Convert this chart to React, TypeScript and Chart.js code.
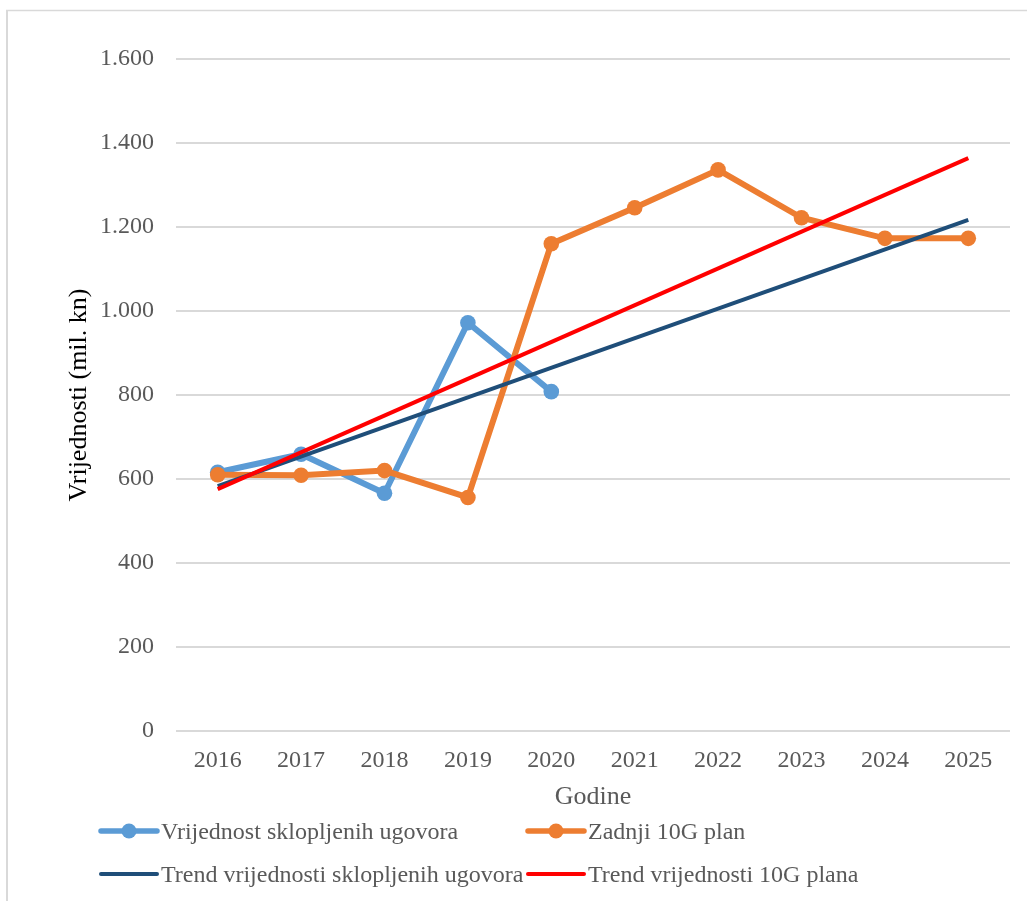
import { useEffect, useRef } from 'react';
import { Chart, registerables } from 'chart.js';

Chart.register(...registerables);

// Godine (x-os)
const years = ['2016', '2017', '2018', '2019', '2020', '2021', '2022', '2023', '2024', '2025'];

// Vrijednost sklopljenih ugovora (mil. kn), 2016–2020
const contractValues = [616, 659, 566, 972, 808];

// Zadnji 10G plan (mil. kn), 2016–2025
const planValues = [610, 609, 620, 556, 1160, 1246, 1336, 1222, 1173, 1173];

// Linearni trendovi: početna (2016) i završna (2025) vrijednost
const contractTrend = [583, null, null, null, null, null, null, null, null, 1217];
const planTrend = [576, null, null, null, null, null, null, null, null, 1364];

// Oznake osi y
const yTickStep = 200;
const yMax = 1600;

const SERIF = '"Liberation Serif", "Times New Roman", Times, serif';
const GRID = '#D9D9D9';
const GRAY_TEXT = '#595959';

const BLUE = '#5B9BD5';
const ORANGE = '#ED7D31';
const NAVY = '#1F4E79';
const RED = '#FF0000';

const formatThousands = (v: number) =>
  String(Math.round(v)).replace(/\B(?=(\d{3})+(?!\d))/g, '.');

// Okvir grafikona (gornji i lijevi rub)
const framePlugin = {
  id: 'frame',
  beforeDraw(chart: Chart) {
    const { ctx, width, height } = chart;
    ctx.save();
    ctx.strokeStyle = GRID;
    ctx.lineWidth = 1.5;
    ctx.beginPath();
    ctx.moveTo(6, 10.5);
    ctx.lineTo(width, 10.5);
    ctx.stroke();
    ctx.lineWidth = 2;
    ctx.beginPath();
    ctx.moveTo(7, 10);
    ctx.lineTo(7, height);
    ctx.stroke();
    ctx.restore();
  },
};

// Legenda u dva stupca ispod grafikona
const legendPlugin = {
  id: 'twoColumnLegend',
  afterDraw(chart: Chart) {
    const { ctx } = chart;
    const slots = [
      { ds: 0, x: 101, y: 831 },
      { ds: 1, x: 528, y: 831 },
      { ds: 2, x: 101, y: 874 },
      { ds: 3, x: 528, y: 874 },
    ];
    const lineLen = 56;
    ctx.save();
    for (const s of slots) {
      const ds: any = chart.data.datasets[s.ds];
      const hasMarker = (ds.pointRadius ?? 0) > 0;
      ctx.strokeStyle = ds.borderColor;
      ctx.lineWidth = hasMarker ? 5.5 : 4;
      ctx.lineCap = 'round';
      ctx.beginPath();
      ctx.moveTo(s.x, s.y);
      ctx.lineTo(s.x + lineLen, s.y);
      ctx.stroke();
      if (hasMarker) {
        ctx.fillStyle = ds.borderColor;
        ctx.beginPath();
        ctx.arc(s.x + lineLen / 2, s.y, 7.5, 0, Math.PI * 2);
        ctx.fill();
      }
      ctx.fillStyle = GRAY_TEXT;
      ctx.font = `24px ${SERIF}`;
      ctx.textAlign = 'left';
      ctx.textBaseline = 'alphabetic';
      ctx.fillText(ds.label, s.x + lineLen + 4, s.y + 7.5);
    }
    ctx.restore();
  },
};

export default function App() {
  const canvasRef = useRef<HTMLCanvasElement | null>(null);

  useEffect(() => {
    const canvas = canvasRef.current;
    if (!canvas) return;

    const chart = new Chart(canvas, {
      type: 'line',
      data: {
        labels: years,
        datasets: [
          {
            label: 'Vrijednost sklopljenih ugovora',
            data: contractValues,
            borderColor: BLUE,
            backgroundColor: BLUE,
            borderWidth: 6,
            pointRadius: 7.8,
            pointBorderWidth: 0,
            pointBackgroundColor: BLUE,
            tension: 0,
            order: 3,
          },
          {
            label: 'Zadnji 10G plan',
            data: planValues,
            borderColor: ORANGE,
            backgroundColor: ORANGE,
            borderWidth: 6,
            pointRadius: 7.8,
            pointBorderWidth: 0,
            pointBackgroundColor: ORANGE,
            tension: 0,
            order: 2,
          },
          {
            label: 'Trend vrijednosti sklopljenih ugovora',
            data: contractTrend,
            borderColor: NAVY,
            backgroundColor: NAVY,
            borderWidth: 4,
            pointRadius: 0,
            spanGaps: true,
            tension: 0,
            order: 1,
          },
          {
            label: 'Trend vrijednosti 10G plana',
            data: planTrend,
            borderColor: RED,
            backgroundColor: RED,
            borderWidth: 4,
            pointRadius: 0,
            spanGaps: true,
            tension: 0,
            order: 0,
          },
        ],
      },
      options: {
        responsive: false,
        animation: false,
        events: [],
        layout: { padding: { left: 64, right: 17, top: 59, bottom: 88 } },
        plugins: {
          legend: { display: false },
          tooltip: { enabled: false },
          title: { display: false },
        },
        scales: {
          x: {
            offset: true,
            grid: { display: false, offset: true },
            border: { display: false },
            ticks: {
              color: GRAY_TEXT,
              font: { family: SERIF, size: 24 },
              padding: 7,
              maxRotation: 0,
              autoSkip: false,
            },
            title: {
              display: true,
              text: 'Godine',
              color: GRAY_TEXT,
              font: { family: SERIF, size: 26 },
              padding: 0,
            },
            afterFit(scale: any) {
              scale.height = 82;
            },
          },
          y: {
            min: 0,
            max: yMax,
            grid: { color: GRID, lineWidth: 2, drawTicks: false },
            border: { display: false },
            ticks: {
              stepSize: yTickStep,
              color: GRAY_TEXT,
              font: { family: SERIF, size: 24 },
              padding: 22,
              callback: (v: any) => formatThousands(Number(v)),
            },
            title: {
              display: true,
              text: 'Vrijednosti (mil. kn)',
              color: '#000000',
              font: { family: SERIF, size: 26 },
              padding: 0,
            },
            afterFit(scale: any) {
              scale.width = 112;
            },
          },
        },
      },
      plugins: [framePlugin, legendPlugin],
    });

    return () => chart.destroy();
  }, []);

  return (
    <div
      style={{
        position: 'absolute',
        left: 0,
        top: 0,
        width: 1027,
        height: 901,
        overflow: 'hidden',
        background: '#FFFFFF',
      }}
    >
      <canvas ref={canvasRef} width={1027} height={901} style={{ display: 'block' }} />
    </div>
  );
}
